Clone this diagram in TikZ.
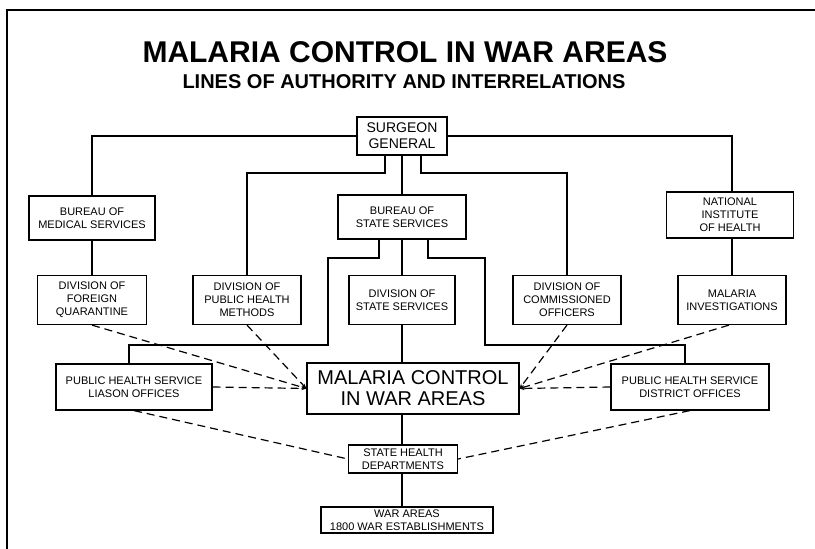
\documentclass[tikz,border=0pt]{standalone}
\usepackage{fontspec}
\setmainfont{Liberation Sans}
\usetikzlibrary{arrows.meta}
\tikzset{
  office/.style={draw,line width=1.2pt,align=center,inner sep=0pt,
    font=\fontsize{11}{13}\selectfont},
  chain/.style={line width=2pt},
  liaison/.style={line width=1.2pt,dash pattern=on 8pt off 5pt},
}
\begin{document}
\begin{tikzpicture}[x=1pt,y=-1pt,>={Stealth[length=5pt,width=3.5pt]}]
\useasboundingbox (0,0) rectangle (815,549);
\draw[line width=1.5pt] (815,10) -- (7,10) -- (7,549);
\node (title) at (405,52) {\fontsize{30}{30}\selectfont\bfseries MALARIA CONTROL IN WAR AREAS};
\node (subtitle) at (404,82) {\fontsize{20}{20}\selectfont\bfseries LINES OF AUTHORITY AND INTERRELATIONS};
% top levels
\node[office,minimum width=90pt,minimum height=38pt,font=\fontsize{14}{16}\selectfont] (sg) at (402,136) {SURGEON\\GENERAL};
\node[office,minimum width=126pt,minimum height=44pt] (bms) at (92,218) {BUREAU OF\\MEDICAL SERVICES};
\node[office,minimum width=128pt,minimum height=44pt] (bss) at (402,217) {BUREAU OF\\STATE SERVICES};
\node[office,minimum width=127pt,minimum height=46pt] (nih) at (730,215) {NATIONAL\\INSTITUTE\\OF HEALTH};
% divisions
\node[office,minimum width=109pt,minimum height=49pt] (dfq) at (92,300) {DIVISION OF\\FOREIGN\\QUARANTINE};
\node[office,minimum width=108pt,minimum height=49pt] (dphm) at (247,300) {DIVISION OF\\PUBLIC HEALTH\\METHODS};
\node[office,minimum width=106pt,minimum height=49pt] (dss) at (402,300) {DIVISION OF\\STATE SERVICES};
\node[office,minimum width=108pt,minimum height=49pt] (dco) at (567,300) {DIVISION OF\\COMMISSIONED\\OFFICERS};
\node[office,minimum width=108pt,minimum height=49pt] (mi) at (732,300) {MALARIA\\INVESTIGATIONS};
% field
\node[office,minimum width=156pt,minimum height=46pt] (lia) at (134,387) {PUBLIC HEALTH SERVICE\\LIASON OFFICES};
\node[office,minimum width=212pt,minimum height=51pt,font=\fontsize{20}{21}\selectfont] (mc) at (413,388.5) {MALARIA CONTROL\\IN WAR AREAS};
\node[office,minimum width=158pt,minimum height=46pt] (dis) at (690,387) {PUBLIC HEALTH SERVICE\\DISTRICT OFFICES};
\node[office,minimum width=109pt,minimum height=28pt] (shd) at (403,459) {STATE HEALTH\\DEPARTMENTS};
\node[office,minimum width=172pt,minimum height=26pt] (wa) at (407,520) {WAR AREAS\\1800 WAR ESTABLISHMENTS};
\coordinate (lj) at (328,345);
\coordinate (rj) at (485,345);
% lines of authority
\draw[chain] (sg.west) -| (bms.north);
\draw[chain] (sg.east) -| ([xshift=2pt]nih.north);
\draw[chain] ([xshift=-17pt]sg.south) -- ++(0,17) -| (dphm.north);
\draw[chain] ([xshift=19pt]sg.south) -- ++(0,17) -| (dco.north);
\draw[chain] (sg.south) -- (bss.north);
\draw[chain] (bms.south) -- (dfq.north);
\draw[chain] ([xshift=2pt]nih.south) -- (mi.north);
\draw[chain] ([xshift=-23pt]bss.south) -- ++(0,18) -| (lj) -| ([xshift=-5pt]lia.north);
\draw[chain] ([xshift=26pt]bss.south) -- ++(0,18) -| (rj) -| ([xshift=-5pt]dis.north);
\draw[chain] (bss.south) -- (dss.north);
\draw[chain] (dss.south) -- (dss.south |- mc.north);
\draw[chain] (dss.south |- mc.south) -- (shd.north -| dss.south);
\draw[chain] (shd.south -| dss.south) -- (dss.south |- wa.north);
% interrelations
\draw[liaison,->] (dfq.south) -- (mc.west);
\draw[liaison,->] (dphm.south) -- (mc.west);
\draw[liaison,->] (lia.east) -- (mc.west);
\draw[liaison,->] (dco.south) -- (mc.east);
\draw[liaison,->] ([xshift=-3pt]mi.south) -- (mc.east);
\draw[liaison,->] (dis.west) -- (mc.east);
\draw[liaison] (lia.south) -- (shd.west);
\draw[liaison] (dis.south) -- (shd.east);
\end{tikzpicture}
\end{document}
